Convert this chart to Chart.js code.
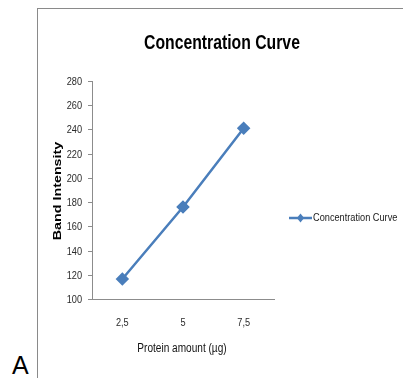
<!DOCTYPE html>
<html>
<head>
<meta charset="utf-8">
<script src="https://cdn.jsdelivr.net/npm/chart.js@4/dist/chart.umd.min.js"></script>
<style>
  html, body { margin: 0; padding: 0; background: #fff; }
  #wrap { position: relative; width: 403px; height: 378px; overflow: hidden; }
  #frame { position: absolute; left: 37px; top: 8px; width: 400px; height: 400px; border: 1px solid #8a8a8a; box-sizing: border-box; }
  #panel { position: absolute; left: 12px; top: 351px; font: 25px "Liberation Sans", Arial, sans-serif; color: #000; }
  canvas { position: absolute; left: 0; top: 0; }
</style>
</head>
<body>
<div id="wrap">
  <div id="frame"></div>
  <div id="panel">A</div>
  <canvas id="c" width="403" height="378"></canvas>
</div>
<script>
const categories = ["2,5", "5", "7,5"];
const bandIntensity = [116.5, 176, 241];
const seriesName = "Concentration Curve";
const chartTitle = "Concentration Curve";
const xTitle = "Protein amount (µg)";
const yTitle = "Band Intensity";
const yMin = 100, yMax = 280, yStep = 20;

const SANS = '"Liberation Sans", Arial, sans-serif';
const BLUE = "#4a7ebb";
const AXIS = "#8c8c8c";

// Draw text squeezed (or stretched) horizontally by sx, optionally rotated
function drawText(ctx, text, x, y, opts) {
  const { size = 11, weight = "normal", sx = 0.84, align = "center", color = "#222", rotate = 0 } = opts;
  ctx.save();
  ctx.translate(x, y);
  if (rotate) ctx.rotate(rotate);
  ctx.scale(sx, 1);
  ctx.font = weight + " " + size + "px " + SANS;
  ctx.fillStyle = color;
  ctx.textAlign = align;
  ctx.textBaseline = "middle";
  ctx.fillText(text, 0, 0);
  ctx.restore();
}

// Title, axis labels, axis tick marks/labels and the side legend
const annotate = {
  id: "annotate",
  afterDraw(chart) {
    const ctx = chart.ctx;
    const xs = chart.scales.x, ys = chart.scales.y;
    const area = chart.chartArea;
    const ds = chart.data.datasets[0];

    drawText(ctx, chartTitle, 222, 43, { size: 21, weight: "bold", sx: 0.75, color: "#000" });

    // y ticks
    ctx.save();
    ctx.strokeStyle = AXIS;
    ctx.lineWidth = 1;
    ys.ticks.forEach(t => {
      const y = Math.round(ys.getPixelForValue(t.value)) + 0.5;
      ctx.beginPath(); ctx.moveTo(area.left - 4, y); ctx.lineTo(area.left, y); ctx.stroke();
      drawText(ctx, String(t.value), area.left - 10, y, { size: 11.5, sx: 0.8, align: "right", color: "#2a2a2a" });
    });
    ctx.restore();

    // x category labels
    xs.ticks.forEach((t, i) => {
      drawText(ctx, chart.data.labels[i], xs.getPixelForTick(i), 323, { size: 11.5, sx: 0.8, color: "#2a2a2a" });
    });

    drawText(ctx, xTitle, 182, 349, { size: 12, color: "#111" });
    drawText(ctx, yTitle, 58, 191, { size: 11, weight: "bold", sx: 1.3, color: "#000", rotate: -Math.PI / 2 });

    // legend
    const ly = 218, lx0 = 289, lx1 = 312;
    ctx.save();
    ctx.strokeStyle = ds.borderColor;
    ctx.lineWidth = 2.5;
    ctx.beginPath(); ctx.moveTo(lx0, ly); ctx.lineTo(lx1, ly); ctx.stroke();
    ctx.fillStyle = ds.backgroundColor;
    const cx = (lx0 + lx1) / 2, r = 4.5;
    ctx.beginPath();
    ctx.moveTo(cx, ly - r); ctx.lineTo(cx + r * 0.8, ly); ctx.lineTo(cx, ly + r); ctx.lineTo(cx - r * 0.8, ly);
    ctx.closePath(); ctx.fill();
    ctx.restore();
    drawText(ctx, ds.label, lx1 + 1, ly, { size: 11.5, sx: 0.8, align: "left", color: "#1a1a1a" });
  }
};

new Chart(document.getElementById("c"), {
  type: "line",
  data: {
    labels: categories,
    datasets: [{
      label: seriesName,
      data: bandIntensity,
      borderColor: BLUE,
      backgroundColor: BLUE,
      borderWidth: 2.5,
      pointStyle: "rectRot",
      pointRadius: 5,
      pointHoverRadius: 5,
      tension: 0
    }]
  },
  options: {
    responsive: false,
    animation: false,
    events: [],
    layout: { padding: { left: 52, right: 129, top: 81, bottom: 29 } },
    plugins: {
      legend: { display: false },
      tooltip: { enabled: false },
      title: { display: false }
    },
    scales: {
      x: {
        offset: true,
        grid: { display: false, drawTicks: false },
        border: { display: true, color: AXIS, width: 1 },
        ticks: { display: false },
        afterFit(scale) { scale.height = 50; }
      },
      y: {
        min: yMin,
        max: yMax,
        grid: { display: false, drawTicks: false },
        border: { display: true, color: AXIS, width: 1 },
        ticks: { display: false, stepSize: yStep },
        afterFit(scale) { scale.width = 40; }
      }
    }
  },
  plugins: [annotate]
});
</script>
</body>
</html>
